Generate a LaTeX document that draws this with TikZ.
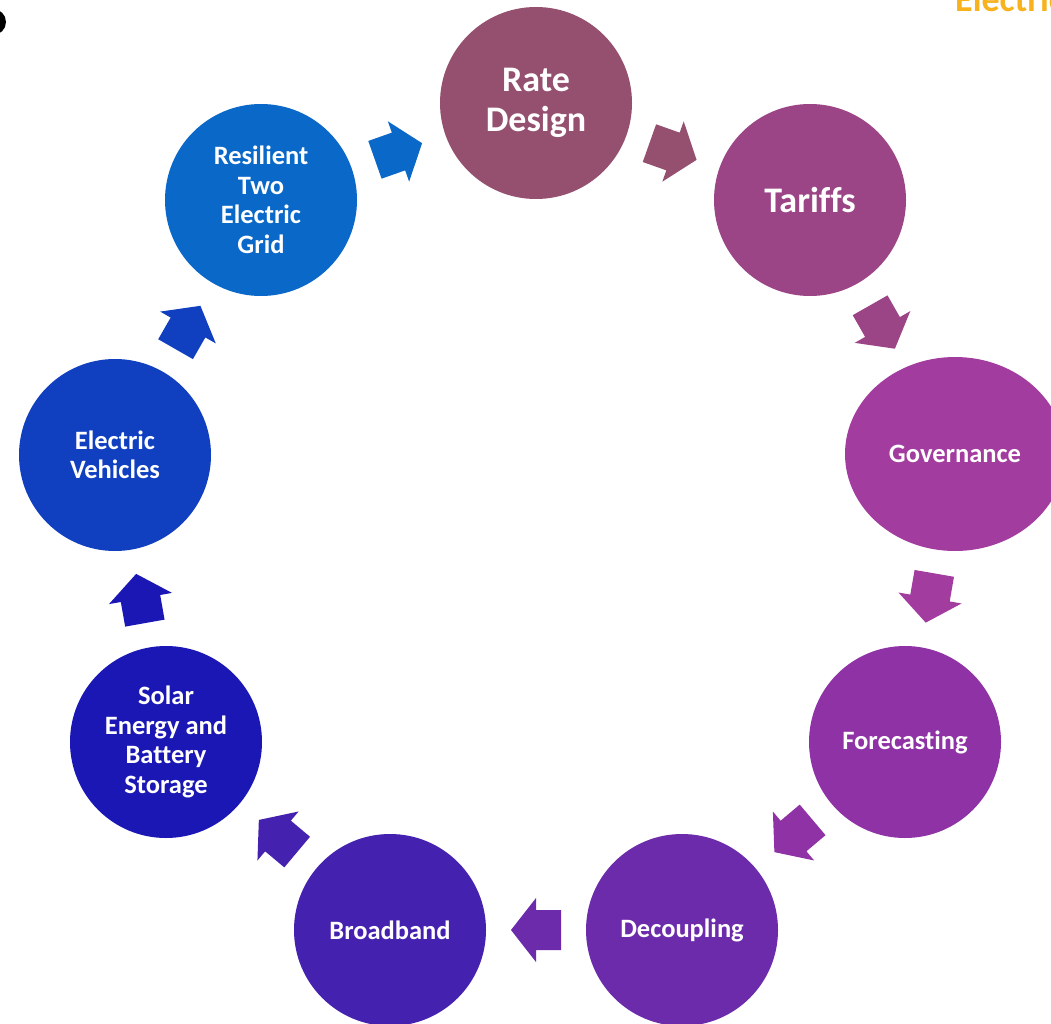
\documentclass[tikz,border=0pt]{standalone}
\usepackage{fontspec}
\setmainfont{Carlito}[Ligatures=NoCommon]
\usetikzlibrary{calc,shapes.geometric}
\definecolor{cRate}{HTML}{955070}
\definecolor{cTariff}{HTML}{9B4486}
\definecolor{cGov}{HTML}{A23C9F}
\definecolor{cFore}{HTML}{8E32A6}
\definecolor{cDec}{HTML}{6B2BAB}
\definecolor{cBroad}{HTML}{4521AF}
\definecolor{cSolar}{HTML}{1B17B5}
\definecolor{cEV}{HTML}{1040C0}
\definecolor{cRes}{HTML}{0A68C8}
\definecolor{cOrange}{HTML}{F7B21E}
\tikzset{
  stage/.style={circle, fill=#1, minimum size=192pt, inner sep=0pt, text=white,
    font=\bfseries\fontsize{26.5}{29.5}\selectfont, align=center},
  bigstage/.style={stage=#1, font=\bfseries\fontsize{36}{40}\selectfont},
  barrow/.pic={\fill[#1] (25,0) -- (0,32) -- (0,20) -- (-25,20) -- (-25,-20) -- (0,-20) -- (0,-32) -- cycle;}
}
\newcommand\flowarrow[3]{%
  \path let \p1=($(#2)-(#1)$), \n1={atan2(\y1,\x1)} in
    ($(#1)!0.5!(#2)$) pic[rotate=\n1]{barrow=#3};}
\begin{document}
\begin{tikzpicture}[x=1pt,y=-1pt]
\useasboundingbox (0,0) rectangle (1051,1024);
\clip (0,0) rectangle (1051,1024);
\fill[white] (0,0) rectangle (1051,1024);
\fill[black] (-7,22) circle (13);
\node[anchor=base west, text=cOrange, font=\bfseries\fontsize{36}{36}\selectfont, inner sep=0pt] (hdr) at (955,12) {Electric};

\node[bigstage=cRate] (rate) at (536,103) {Rate\\Design};
\node[bigstage=cTariff] (tariffs) at (810,200) {Tariffs};
\node[stage=cGov, ellipse, minimum width=220pt, minimum height=194pt] (gov) at (955,454) {Governance};
\node[stage=cFore] (fore) at (905,742) {Forecasting};
\node[stage=cDec] (dec) at (682,930) {Decoupling};
\node[stage=cBroad] (broad) at (390,930) {Broadband};
\node[stage=cSolar] (solar) at (166,742) {Solar\\Energy and\\Battery\\Storage};
\node[stage=cEV] (ev) at (115,455) {Electric\\Vehicles};
\node[stage=cRes] (res) at (261,200) {Resilient\\Two\\Electric\\Grid};

\flowarrow{res}{rate}{cRes}
\flowarrow{rate}{tariffs}{cRate}
\flowarrow{tariffs}{gov}{cTariff}
\flowarrow{gov}{fore}{cGov}
\flowarrow{fore}{dec}{cFore}
\flowarrow{dec}{broad}{cDec}
\flowarrow{broad}{solar}{cBroad}
\flowarrow{solar}{ev}{cSolar}
\flowarrow{ev}{res}{cEV}
\end{tikzpicture}
\end{document}
